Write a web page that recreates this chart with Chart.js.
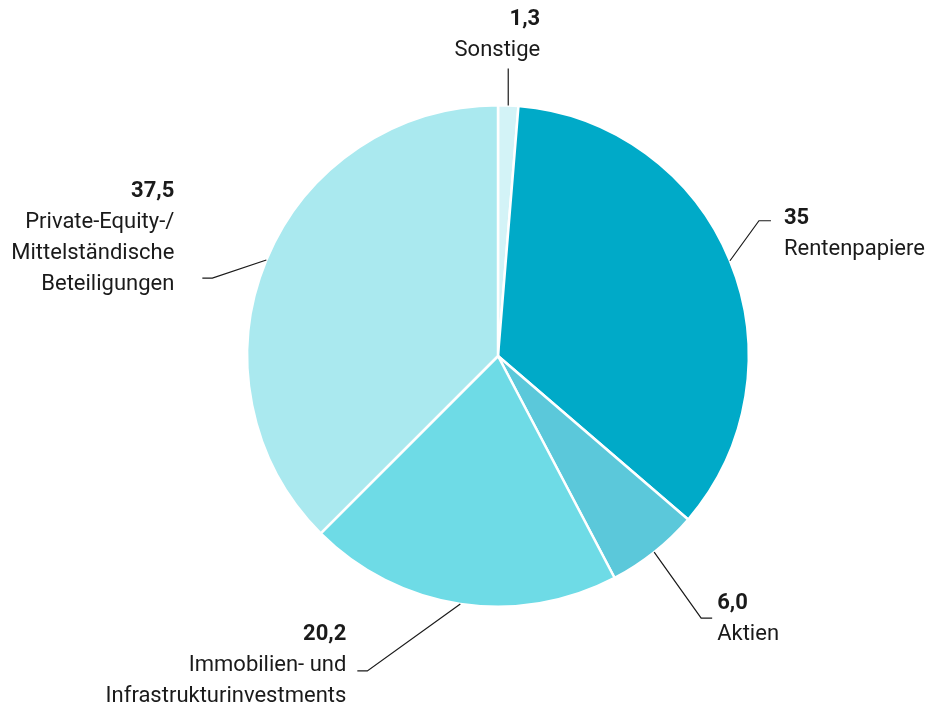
<!DOCTYPE html>
<html lang="de">
<head>
  <meta charset="UTF-8" />
  <title>Kapitalanlagen</title>
  <script src="https://cdn.jsdelivr.net/npm/chart.js"></script>
  <style>
    html, body {
      margin: 0;
      padding: 0;
      background-color: #ffffff;
    }
    #wrap {
      width: 932px;
      height: 707px;
    }
  </style>
</head>
<body>
  <div id="wrap">
    <canvas id="pieChart" width="932" height="707"></canvas>
  </div>

  <script>
    // Anteile in Prozent, im Uhrzeigersinn ab 12 Uhr
    const categories = [
      ["Sonstige"],
      ["Rentenpapiere"],
      ["Aktien"],
      ["Immobilien- und", "Infrastrukturinvestments"],
      ["Private-Equity-/", "Mittelständische", "Beteiligungen"]
    ];
    const values = [1.3, 35, 6.0, 20.2, 37.5];
    const valueLabels = ["1,3", "35", "6,0", "20,2", "37,5"];
    const colors = ["#d3f3f7", "#00aac8", "#5bc8da", "#6edbe6", "#aae9ef"];

    // Führungslinien: Knick relativ zum Segmentrand, kurzer waagerechter Auslauf, Textabstand
    const leaders = [
      { elbow: [0, -37], tail: 0, gap: 32, first: -49, align: "right" },
      { elbow: [29, -40], tail: 12, gap: 13, first: -2, align: "left" },
      { elbow: [47, 66], tail: 11, gap: 5, first: -15, align: "left" },
      { elbow: [-93, 67], tail: -10, gap: -11, first: -36, align: "right" },
      { elbow: [-54, 18], tail: -10, gap: -28, first: -87, align: "right" }
    ];

    const FONT = "Roboto, 'DejaVu Sans', sans-serif";
    const LINE_H = 31;

    const labelPlugin = {
      id: 'leaderLabels',
      afterDraw(chart) {
        const ctx = chart.ctx;
        const arcs = chart.getDatasetMeta(0).data;
        ctx.save();
        arcs.forEach((arc, i) => {
          const p = arc.getProps(['x', 'y', 'startAngle', 'endAngle', 'outerRadius'], true);
          const mid = (p.startAngle + p.endAngle) / 2;
          const ax = p.x + Math.cos(mid) * p.outerRadius;
          const ay = p.y + Math.sin(mid) * p.outerRadius;
          const l = leaders[i];
          const ex = ax + l.elbow[0];
          const ey = ay + l.elbow[1];
          const tx = ex + l.tail;

          ctx.strokeStyle = '#1a1a1a';
          ctx.lineWidth = 1.2;
          ctx.beginPath();
          ctx.moveTo(ax, ay);
          ctx.lineTo(ex, ey);
          if (l.tail !== 0) ctx.lineTo(tx, ey);
          ctx.stroke();

          const textX = tx + l.gap;
          let y = ey + l.first;
          ctx.fillStyle = '#1a1a1a';
          ctx.textAlign = l.align;
          ctx.textBaseline = 'middle';
          ctx.font = "bold 22px " + FONT;
          ctx.fillText(valueLabels[i], textX, y);
          ctx.font = "22px " + FONT;
          categories[i].forEach(line => {
            y += LINE_H;
            ctx.fillText(line, textX, y);
          });
        });
        ctx.restore();
      }
    };

    new Chart(document.getElementById('pieChart'), {
      type: 'pie',
      data: {
        labels: categories.map(c => c.join(' ')),
        datasets: [{
          data: values,
          backgroundColor: colors,
          borderColor: '#ffffff',
          borderWidth: 2.5
        }]
      },
      options: {
        responsive: false,
        animation: false,
        layout: {
          padding: { top: 104, bottom: 99, left: 246, right: 182 }
        },
        plugins: {
          legend: { display: false },
          tooltip: { enabled: false }
        }
      },
      plugins: [labelPlugin]
    });
  </script>
</body>
</html>
